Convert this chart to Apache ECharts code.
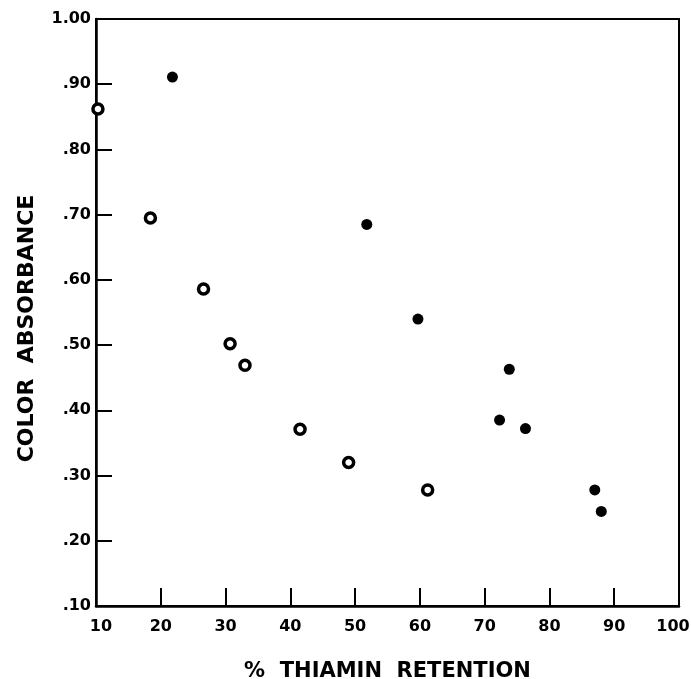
<!DOCTYPE html>
<html>
<head>
<meta charset="utf-8">
<script src="https://cdn.jsdelivr.net/npm/echarts@6/dist/echarts.min.js"></script>
<style>
	html, body { margin: 0; padding: 0; background: #fff; }
	#main { width: 691px; height: 679px; }
</style>
</head>
<body>
<div id="main"></div>
<script>
// open circles
var openRetention = [10.3, 18.4, 26.6, 30.7, 33.0, 41.5, 49.0, 61.2];
var openAbsorbance = [0.862, 0.695, 0.586, 0.502, 0.469, 0.371, 0.320, 0.278];
// filled dots
var filledRetention = [21.8, 51.8, 59.7, 73.8, 72.3, 76.3, 87.0, 88.0];
var filledAbsorbance = [0.911, 0.685, 0.540, 0.463, 0.385, 0.372, 0.278, 0.245];

var xTicks = [10, 20, 30, 40, 50, 60, 70, 80, 90, 100];
var yTicks = ['.10', '.20', '.30', '.40', '.50', '.60', '.70', '.80', '.90', '1.00'];

function pairs(xs, ys) {
	var out = [];
	for (var i = 0; i < xs.length; i++) {
		out.push([xs[i], ys[i]]);
	}
	return out;
}

var myChart = echarts.init(document.getElementById('main'));

var labelFont = {
	color : '#000',
	fontFamily : 'DejaVu Sans',
	fontWeight : 'bold',
	fontSize : 16
};

var option = {
	backgroundColor : '#fff',
	animation : false,
	grid : {
		left : 96,
		right : 12,
		top : 19,
		bottom : 73,
		outerBoundsMode : 'none',
		containLabel : false,
		show : true,
		borderColor : '#000',
		borderWidth : 2
	},
	xAxis : {
		type : 'value',
		min : 10,
		max : 100,
		interval : 10,
		axisLine : { lineStyle : { color : '#000', width : 2.5 } },
		axisTick : { inside : true, length : 18, lineStyle : { color : '#000', width : 2 } },
		splitLine : { show : false },
		axisLabel : Object.assign({
			margin : 13,
			formatter : function(v) {
				if (v === 10) return '{first|10}';
				if (v === 100) return '{last|100}';
				return xTicks.indexOf(v) >= 0 ? String(v) : '';
			},
			rich : {
				first : Object.assign({ padding : [0, 0, 0, 10] }, labelFont),
				last : Object.assign({ padding : [0, 12, 0, 0] }, labelFont)
			}
		}, labelFont),
		name : '%  THIAMIN  RETENTION',
		nameLocation : 'middle',
		nameGap : 55,
		nameTextStyle : {
			color : '#000',
			fontFamily : 'DejaVu Sans',
			fontWeight : 'bold',
			fontSize : 21
		}
	},
	yAxis : {
		type : 'value',
		min : 0.1,
		max : 1.0,
		interval : 0.1,
		axisLine : { lineStyle : { color : '#000', width : 2.5 } },
		axisTick : { inside : true, length : 16, lineStyle : { color : '#000', width : 2 } },
		splitLine : { show : false },
		axisLabel : Object.assign({
			margin : 5,
			formatter : function(v) {
				var i = Math.round(v * 10) - 1;
				return yTicks[i] || '';
			}
		}, labelFont),
		name : 'COLOR  ABSORBANCE',
		nameLocation : 'middle',
		nameGap : 58,
		nameRotate : 90,
		nameTextStyle : {
			color : '#000',
			fontFamily : 'DejaVu Sans',
			fontWeight : 'bold',
			fontSize : 22,
			padding : [0, 32, 0, 0]
		}
	},
	series : [ {
		name : 'open',
		type : 'scatter',
		symbol : 'circle',
		symbolSize : 10,
		itemStyle : { color : '#fff', borderColor : '#000', borderWidth : 3.5, opacity : 1 },
		data : pairs(openRetention, openAbsorbance)
	}, {
		name : 'filled',
		type : 'scatter',
		symbol : 'circle',
		symbolSize : 11,
		itemStyle : { color : '#000', opacity : 1 },
		data : pairs(filledRetention, filledAbsorbance)
	} ]
};

myChart.setOption(option);
</script>
</body>
</html>
